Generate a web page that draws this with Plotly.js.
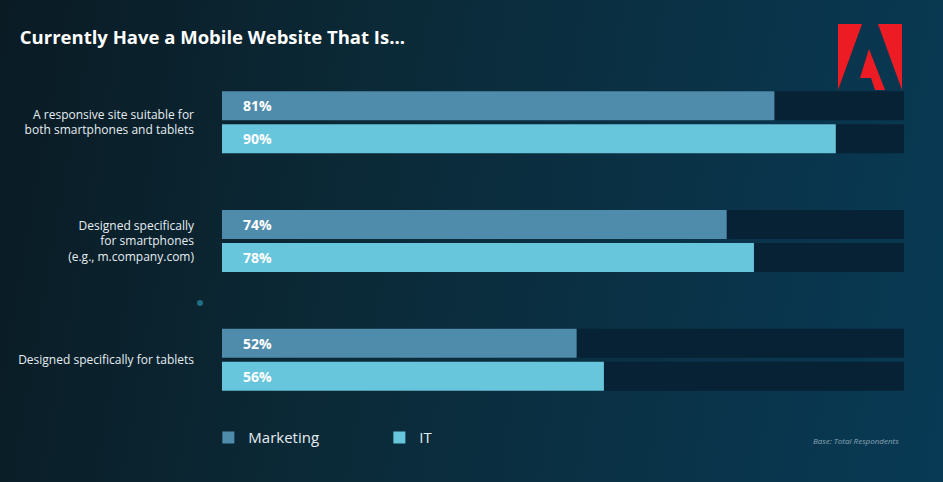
<!DOCTYPE html>
<html>
<head>
<meta charset="utf-8">
<script src="https://cdn.plot.ly/plotly-3.0.1.min.js"></script>
<style>
html,body{margin:0;padding:0;width:943px;height:482px;overflow:hidden;}
body{background:linear-gradient(100deg,#0a1b24 0%,#0b2a38 40%,#0a3247 70%,#083a55 100%);}
#chart{width:943px;height:482px;}
</style>
</head>
<body>
<div id="chart"></div>
<script>
const categories = [
  "A responsive site suitable for<br>both smartphones and tablets",
  "Designed specifically<br>for smartphones<br>(e.g., m.company.com)",
  "Designed specifically for tablets"
];
const marketing = [81, 74, 52];
const it = [90, 78, 56];
const fullScale = [100, 100, 100];
const seriesNames = ["Marketing", "IT"];

const W = 0.244, GAP = 0.034;
const offM = -(W + GAP/2), offI = GAP/2;
const colM = "#4f8cab", colI = "#67c5dc", colTrack = "#072235";

const traces = [
  {type:"bar", orientation:"h", y:categories, x:fullScale, offset:offM, width:W,
   marker:{color:colTrack}, showlegend:false, hoverinfo:"skip"},
  {type:"bar", orientation:"h", y:categories, x:fullScale, offset:offI, width:W,
   marker:{color:colTrack}, showlegend:false, hoverinfo:"skip"},
  {type:"bar", orientation:"h", y:categories, x:marketing, offset:offM, width:W,
   name:seriesNames[0], marker:{color:colM}},
  {type:"bar", orientation:"h", y:categories, x:it, offset:offI, width:W,
   name:seriesNames[1], marker:{color:colI}}
];

const annotations = [];
categories.forEach((c,i)=>{
  annotations.push({x:0, y:i + offM + W/2, xref:"x", yref:"y", text:"<b>"+marketing[i]+"%</b>",
    showarrow:false, xanchor:"left", xshift:19, font:{family:"Open Sans", size:14, color:"#ffffff"}});
  annotations.push({x:0, y:i + offI + W/2, xref:"x", yref:"y", text:"<b>"+it[i]+"%</b>",
    showarrow:false, xanchor:"left", xshift:19, font:{family:"Open Sans", size:14, color:"#ffffff"}});
});
annotations.push({x:1, y:-0.06, xref:"paper", yref:"paper", text:"<i>Base: Total Respondents</i>",
  showarrow:false, xanchor:"right", yanchor:"middle", xshift:-3,
  font:{family:"Open Sans", size:8, color:"#8aa4b2"}});

const layout = {
  width:943, height:482,
  margin:{l:222, r:39, t:63, b:63},
  paper_bgcolor:"rgba(0,0,0,0)", plot_bgcolor:"rgba(0,0,0,0)",
  barmode:"overlay",
  title:{text:"<b>Currently Have a Mobile Website That Is...</b>", x:0.021, xref:"container", xanchor:"left",
    y:0.922, yref:"container", yanchor:"middle",
    font:{family:"Open Sans", size:18.5, color:"#ffffff"}},
  xaxis:{range:[0,100], visible:false, fixedrange:true},
  yaxis:{type:"category", autorange:false, range:[2.5,-0.5], showgrid:false, zeroline:false,
    showline:false, ticks:"", ticklabelstandoff:27,
    tickfont:{family:"Open Sans", size:12, color:"#e6edf1"}},
  showlegend:true,
  legend:{orientation:"h", x:-0.02, xanchor:"left", y:-0.006, yanchor:"top",
    font:{family:"Open Sans", size:15, color:"#e6edf1"}, entrywidth:126, entrywidthmode:"pixels",
    bgcolor:"rgba(0,0,0,0)", traceorder:"normal"},
  annotations:annotations
};

Plotly.newPlot("chart", traces, layout, {displayModeBar:false, staticPlot:true}).then(()=>{
  const svgNS = "http://www.w3.org/2000/svg";
  const svg = document.createElementNS(svgNS, "svg");
  svg.setAttribute("width","943"); svg.setAttribute("height","482");
  svg.style.position="absolute"; svg.style.left="0"; svg.style.top="0"; svg.style.pointerEvents="none";
  const paths = ["M838 24 L862 24 L838 90 Z","M878 24 L902 24 L902 90 Z","M869 49 L885 90 L875 90 L871 78 L860 78 Z"];
  paths.forEach(d=>{const p=document.createElementNS(svgNS,"path");p.setAttribute("d",d);p.setAttribute("fill","#ed1c24");svg.appendChild(p);});
  const dot=document.createElementNS(svgNS,"circle");dot.setAttribute("cx","200");dot.setAttribute("cy","303");dot.setAttribute("r","3");dot.setAttribute("fill","#2a8fa8");dot.setAttribute("opacity","0.7");svg.appendChild(dot);
  document.getElementById("chart").style.position="relative";
  document.getElementById("chart").appendChild(svg);
});
</script>
</body>
</html>
